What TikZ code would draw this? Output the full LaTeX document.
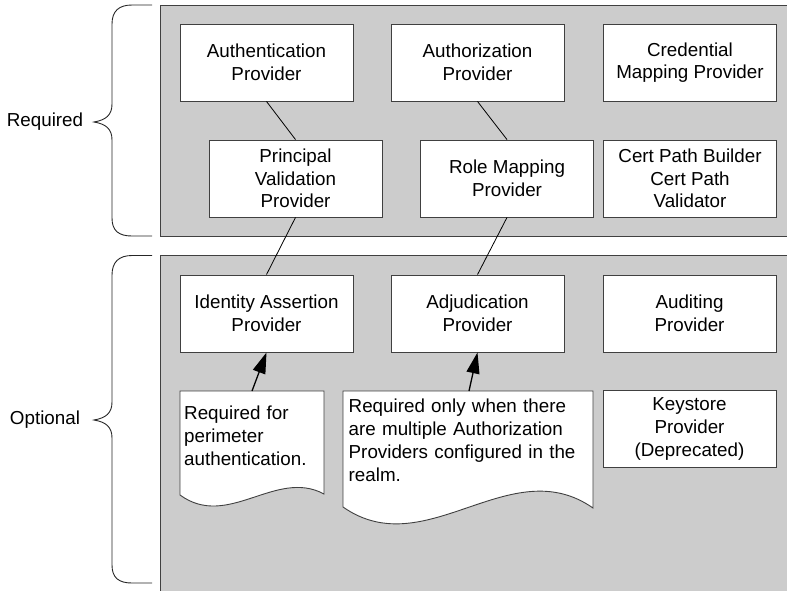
\documentclass[tikz,border=0pt]{standalone}
\usepackage{fontspec}
\setmainfont{Liberation Sans}
\usetikzlibrary{arrows.meta,calc}
\definecolor{panelgray}{HTML}{CCCCCC}
\definecolor{edgegray}{HTML}{404040}
\tikzset{
  panel/.style={fill=panelgray,draw=edgegray,line width=0.9pt},
  provbox/.style={draw=edgegray,fill=white,line width=0.9pt,minimum width=173pt,minimum height=77pt,inner sep=0pt,align=center,font=\fontsize{18.8}{22.6}\selectfont},
  docshape/.style={draw=edgegray,fill=white,line width=0.9pt},
  doctext/.style={inner sep=0pt,align=left,anchor=base west,font=\fontsize{18.8}{23.2}\selectfont},
  link/.style={draw=black,line width=0.8pt},
  arrowlink/.style={draw=black,line width=1.3pt,-{Triangle[length=21pt,width=13pt]}},
  bracepath/.style={draw=black!85,line width=0.9pt},
  sidelabel/.style={inner sep=0pt,font=\fontsize{18.8}{22.6}\selectfont}
}
\begin{document}
\begin{tikzpicture}[x=1pt,y=-1pt]
\useasboundingbox (0,0) rectangle (787,590);
% panels
\path[panel] (160,5) rectangle (800,236);
\path[panel] (160,255.5) rectangle (800,600);
% braces
\path[bracepath] (152,5) -- (132,5) .. controls (119,5) and (112,11) .. (112,24) -- (112,104)
  .. controls (112,115) and (106,120) .. (94,122) .. controls (106,124) and (112,129) .. (112,140)
  -- (112,218) .. controls (112,231) and (119,236) .. (132,236) -- (152,236);
\path[bracepath] (152,255.5) -- (132,255.5) .. controls (119,255.5) and (112,262) .. (112,275) -- (112,402)
  .. controls (112,413) and (106,418) .. (94,420) .. controls (106,422) and (112,427) .. (112,438)
  -- (112,565) .. controls (112,578) and (119,583) .. (132,583) -- (152,583);
\node[sidelabel] (lreq) at (45,122) {Required};
\node[sidelabel] (lopt) at (45,420) {Optional};
% required boxes
\node[provbox] (auth)  at (266.5,62.5) {Authentication\\Provider};
\node[provbox] (authz) at (477.5,62.5) {Authorization\\Provider};
\node[provbox] (cred)  at (690,62.5)   {Credential\\Mapping Provider};
\node[provbox] (pv)    at (295.5,178.5) {Principal\\Validation\\Provider};
\node[provbox] (rm)    at (507,178.5)   {Role Mapping\\Provider};
\node[provbox] (cert)  at (690,178.5)   {Cert Path Builder\\Cert Path\\Validator};
% optional boxes
\node[provbox] (ia)  at (266.5,313.5) {Identity Assertion\\Provider};
\node[provbox] (adj) at (477.5,313.5) {Adjudication\\Provider};
\node[provbox] (aud) at (689.5,313.5) {Auditing\\Provider};
\node[provbox] (key) at (689.5,429)   {Keystore\\Provider\\(Deprecated)};
% documents
\path[docshape] (180,391) -- (324,391) -- (324,494) .. controls (276,468) and (228,530) .. (180,495) -- cycle;
\path[docshape] (343,391) -- (593,391) -- (593,508) .. controls (510,450) and (426,565) .. (343,507) -- cycle;
\node[doctext,text width=140pt] (d1) at (184,419) {Required for\\perimeter\\authentication.};
\node[doctext,text width=246pt] (d2) at (348.5,412) {Required only when there\\are multiple Authorization\\Providers configured in the\\realm.};
\coordinate (d1top) at (252,391);
\coordinate (d2top) at (469,391);
% connectors
\path[link] (auth.south) -- (pv.north);
\path[link] (authz.south) -- (rm.north);
\path[link] (pv.south) -- (ia.north);
\path[link] (rm.south) -- (adj.north);
\path[arrowlink] (d1top) -- (ia.south);
\path[arrowlink] (d2top) -- (adj.south);
\end{tikzpicture}
\end{document}
